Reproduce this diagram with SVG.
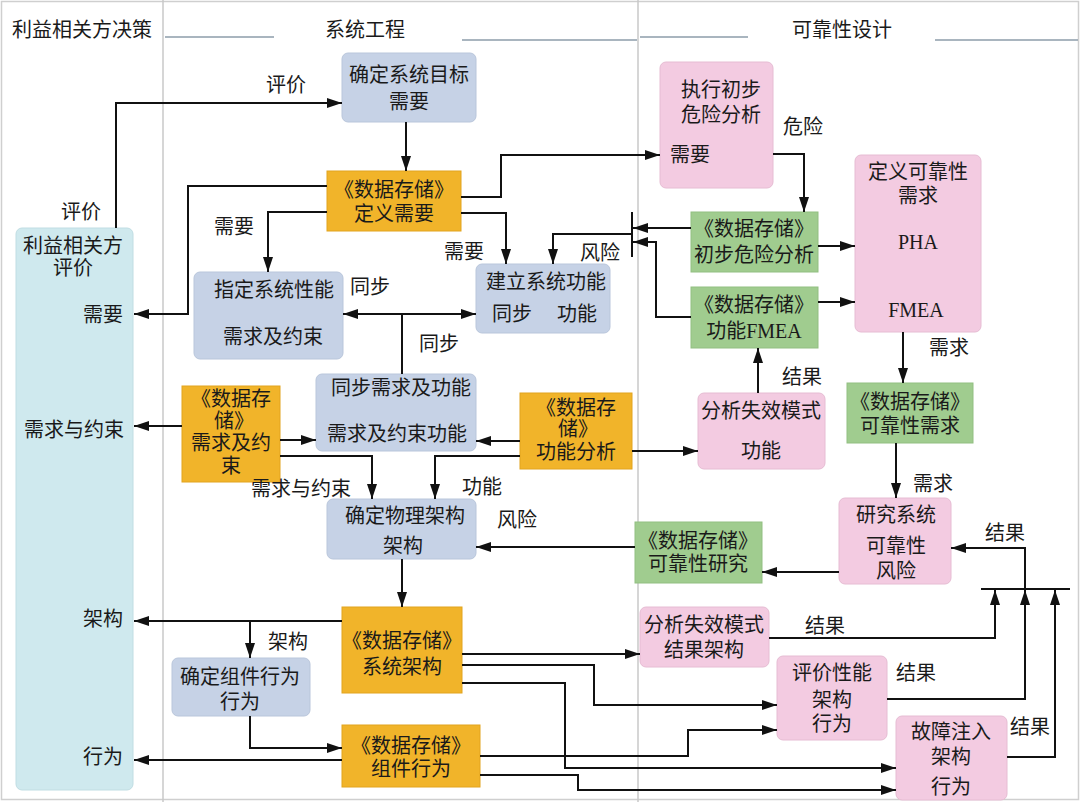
<svg xmlns="http://www.w3.org/2000/svg" width="1080" height="802" viewBox="0 0 1080 802">
<style>
.bg{fill:#ffffff}
.col{stroke:#c9c9c9;stroke-width:1.5;fill:none}
.hl{stroke:#8d9daa;stroke-width:1.5;fill:none}
.blue{fill:#c6d2e6;stroke:#b9c6db;stroke-width:1}
.orange{fill:#f1b42a;stroke:#e2a41e;stroke-width:1}
.pink{fill:#f3cbe1;stroke:#e6bcd3;stroke-width:1}
.green{fill:#a0cc8f;stroke:#92bf81;stroke-width:1}
.cyan{fill:#cfe9ee;stroke:#c0dde3;stroke-width:1}
text{font-family:"Liberation Serif","Noto Sans CJK SC",serif;font-size:20px;fill:#1a1a1a;text-anchor:middle;dominant-baseline:central}
.r{text-anchor:end}
.c{fill:none;stroke:#111;stroke-width:2}
.bar{fill:none;stroke:#111;stroke-width:2}
</style>
<defs>
<marker id="ah" markerUnits="userSpaceOnUse" markerWidth="16" markerHeight="12" refX="15" refY="5" orient="auto-start-reverse">
<path d="M0,0 L15,5 L0,10 z" fill="#111"/>
</marker>
</defs>
<rect class="bg" x="0" y="0" width="1080" height="802"/>
<rect x="1.5" y="1.5" width="1077" height="798" fill="none" stroke="#cfcfcf" stroke-width="1.5"/>
<g id="frame">
<line class="col" x1="163" y1="0" x2="163" y2="802"/>
<line class="col" x1="638" y1="0" x2="638" y2="802"/>
<line class="hl" x1="165" y1="37" x2="274" y2="37"/>
<line class="hl" x1="462" y1="40" x2="637" y2="40"/>
<line class="hl" x1="640" y1="37" x2="748" y2="37"/>
<line class="hl" x1="935" y1="40" x2="1078" y2="40"/>
<text x="82" y="30">利益相关方决策</text>
<text x="365" y="30">系统工程</text>
<text x="842" y="30">可靠性设计</text>
</g>
<g id="stakeholder-eval">
<rect class="cyan" x="16" y="228" width="117" height="562" rx="6"/>
<text x="73" y="246">利益相关方</text>
<text x="73" y="268">评价</text>
<text class="r" x="123" y="315">需要</text>
<text class="r" x="124" y="430">需求与约束</text>
<text class="r" x="123" y="619">架构</text>
<text class="r" x="123" y="757">行为</text>
</g>
<g id="n-goal">
<rect class="blue" x="342" y="53" width="134" height="69" rx="6"/>
<text x="409" y="75">确定系统目标</text>
<text x="409" y="102">需要</text>
</g>
<g id="n-ds-define">
<rect class="orange" x="327" y="171" width="134" height="60"/>
<text x="394" y="190">《数据存储》</text>
<text x="394" y="214">定义需要</text>
</g>
<g id="n-perf">
<rect class="blue" x="194" y="272" width="149" height="87" rx="6"/>
<text x="274" y="290">指定系统性能</text>
<text x="273" y="337">需求及约束</text>
</g>
<g id="n-func">
<rect class="blue" x="476" y="264" width="134" height="69" rx="6"/>
<text x="546" y="282">建立系统功能</text>
<text x="512" y="314">同步</text>
<text x="577" y="314">功能</text>
</g>
<g id="n-sync">
<rect class="blue" x="316" y="374" width="160" height="77" rx="6"/>
<text x="401" y="388">同步需求及功能</text>
<text x="397" y="434">需求及约束功能</text>
</g>
<g id="n-ds-req">
<rect class="orange" x="182" y="386" width="98" height="96"/>
<text x="231" y="399">《数据存</text>
<text x="234" y="421">储》</text>
<text x="231" y="443">需求及约</text>
<text x="231" y="466">束</text>
</g>
<g id="n-ds-funcana">
<rect class="orange" x="520" y="393" width="112" height="76"/>
<text x="576" y="408">《数据存</text>
<text x="578" y="429">储》</text>
<text x="576" y="452">功能分析</text>
</g>
<g id="n-phys">
<rect class="blue" x="327" y="499" width="149" height="60" rx="6"/>
<text x="405" y="516">确定物理架构</text>
<text x="403" y="546">架构</text>
</g>
<g id="n-ds-arch">
<rect class="orange" x="342" y="607" width="120" height="86"/>
<text x="402" y="641">《数据存储》</text>
<text x="402" y="667">系统架构</text>
</g>
<g id="n-comp">
<rect class="blue" x="172" y="658" width="138" height="58" rx="6"/>
<text x="240" y="677">确定组件行为</text>
<text x="240" y="702">行为</text>
</g>
<g id="n-ds-comp">
<rect class="orange" x="342" y="725" width="138" height="62"/>
<text x="411" y="746">《数据存储》</text>
<text x="411" y="769">组件行为</text>
</g>
<g id="n-pha">
<rect class="pink" x="660" y="62" width="113" height="126" rx="6"/>
<text x="721" y="90">执行初步</text>
<text x="721" y="115">危险分析</text>
<text x="690" y="155">需要</text>
</g>
<g id="n-relreq-def">
<rect class="pink" x="855" y="155" width="126" height="177" rx="6"/>
<text x="918" y="172">定义可靠性</text>
<text x="918" y="196">需求</text>
<text x="918" y="242">PHA</text>
<text x="916" y="310">FMEA</text>
</g>
<g id="n-ds-pha">
<rect class="green" x="691" y="212" width="127" height="60"/>
<text x="754" y="229">《数据存储》</text>
<text x="754" y="255">初步危险分析</text>
</g>
<g id="n-ds-fmea">
<rect class="green" x="691" y="287" width="127" height="61"/>
<text x="754" y="305">《数据存储》</text>
<text x="754" y="331">功能FMEA</text>
</g>
<g id="n-fm-func">
<rect class="pink" x="698" y="393" width="127" height="76" rx="6"/>
<text x="761" y="411">分析失效模式</text>
<text x="761" y="451">功能</text>
</g>
<g id="n-ds-relreq">
<rect class="green" x="847" y="383" width="126" height="60"/>
<text x="910" y="402">《数据存储》</text>
<text x="910" y="426">可靠性需求</text>
</g>
<g id="n-study">
<rect class="pink" x="839" y="498" width="112" height="86" rx="6"/>
<text x="896" y="515">研究系统</text>
<text x="896" y="546">可靠性</text>
<text x="896" y="571">风险</text>
</g>
<g id="n-ds-study">
<rect class="green" x="635" y="522" width="127" height="61"/>
<text x="698" y="541">《数据存储》</text>
<text x="698" y="564">可靠性研究</text>
</g>
<g id="n-fm-arch">
<rect class="pink" x="640" y="607" width="129" height="60" rx="6"/>
<text x="704" y="625">分析失效模式</text>
<text x="704" y="650">结果架构</text>
</g>
<g id="n-perf-eval">
<rect class="pink" x="777" y="656" width="110" height="84" rx="6"/>
<text x="832" y="673">评价性能</text>
<text x="832" y="700">架构</text>
<text x="832" y="724">行为</text>
</g>
<g id="n-fault">
<rect class="pink" x="896" y="716" width="111" height="84" rx="6"/>
<text x="951" y="732">故障注入</text>
<text x="951" y="757">架构</text>
<text x="951" y="787">行为</text>
</g>
<g id="connectors">
<path class="c" d="M116,228 V103 H342" marker-end="url(#ah)"/>
<path class="c" d="M406,122 V171" marker-end="url(#ah)"/>
<path class="c" d="M327,186 H188 V314 H134" marker-end="url(#ah)"/>
<path class="c" d="M327,212 H268 V272" marker-end="url(#ah)"/>
<path class="c" d="M461,197 H501 V155 H660" marker-end="url(#ah)"/>
<path class="c" d="M461,213 H506 V264" marker-end="url(#ah)"/>
<path class="c" d="M343,314 H476" marker-start="url(#ah)" marker-end="url(#ah)"/>
<path class="c" d="M402,374 V314"/>
<path class="bar" d="M632,212 V257"/>
<path class="c" d="M691,228 H633" marker-end="url(#ah)"/>
<path class="c" d="M691,317 H656 V242 H633" marker-end="url(#ah)"/>
<path class="c" d="M632,234 H553 V264" marker-end="url(#ah)"/>
<path class="c" d="M773,154 H804 V212" marker-end="url(#ah)"/>
<path class="c" d="M818,246 H855" marker-end="url(#ah)"/>
<path class="c" d="M818,302 H855" marker-end="url(#ah)"/>
<path class="c" d="M758,393 V348" marker-end="url(#ah)"/>
<path class="c" d="M903,332 V383" marker-end="url(#ah)"/>
<path class="c" d="M896,443 V498" marker-end="url(#ah)"/>
<path class="c" d="M182,426 H134" marker-end="url(#ah)"/>
<path class="c" d="M280,440 H316" marker-end="url(#ah)"/>
<path class="c" d="M520,441 H476" marker-end="url(#ah)"/>
<path class="c" d="M280,456 H372 V499" marker-end="url(#ah)"/>
<path class="c" d="M520,456 H435 V499" marker-end="url(#ah)"/>
<path class="c" d="M632,451 H698" marker-end="url(#ah)"/>
<path class="c" d="M635,547 H476" marker-end="url(#ah)"/>
<path class="c" d="M839,572 H762" marker-end="url(#ah)"/>
<path class="c" d="M402,559 V607" marker-end="url(#ah)"/>
<path class="c" d="M342,621 H134" marker-end="url(#ah)"/>
<path class="c" d="M250,621 V658" marker-end="url(#ah)"/>
<path class="c" d="M250,716 V748 H342" marker-end="url(#ah)"/>
<path class="c" d="M342,760 H134" marker-end="url(#ah)"/>
<path class="c" d="M462,654 H640" marker-end="url(#ah)"/>
<path class="c" d="M462,665 H594 V705 H777" marker-end="url(#ah)"/>
<path class="c" d="M462,683 H565 V768 H896" marker-end="url(#ah)"/>
<path class="c" d="M480,756 H688 V730 H777" marker-end="url(#ah)"/>
<path class="c" d="M480,775 H578 V790 H896" marker-end="url(#ah)"/>
<path class="c" d="M769,638 H995 V590" marker-end="url(#ah)"/>
<path class="c" d="M887,699 H1025 V590" marker-end="url(#ah)"/>
<path class="c" d="M1007,757 H1055 V590" marker-end="url(#ah)"/>
<path class="bar" d="M981,589 H1070"/>
<path class="c" d="M1025,589 V548 H951" marker-end="url(#ah)"/>
</g>
<g id="labels">
<text x="286" y="85">评价</text>
<text x="81" y="212">评价</text>
<text x="234" y="227">需要</text>
<text x="464" y="252">需要</text>
<text x="600" y="253">风险</text>
<text x="370" y="287">同步</text>
<text x="439" y="344">同步</text>
<text x="301" y="489">需求与约束</text>
<text x="482" y="487">功能</text>
<text x="517" y="520">风险</text>
<text x="288" y="642">架构</text>
<text x="803" y="127">危险</text>
<text x="949" y="348">需求</text>
<text x="802" y="377">结果</text>
<text x="933" y="484">需求</text>
<text x="1005" y="533">结果</text>
<text x="825" y="626">结果</text>
<text x="916" y="673">结果</text>
<text x="1030" y="727">结果</text>
</g>
</svg>
